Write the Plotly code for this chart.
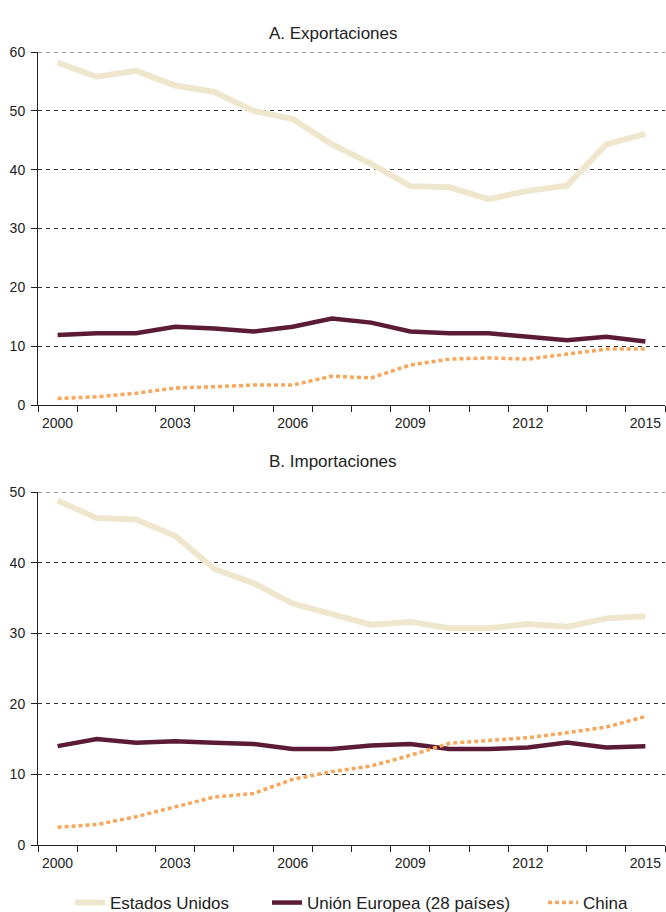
import plotly.graph_objects as go

years = list(range(2000, 2016))
xlabels = ["2000", "2003", "2006", "2009", "2012", "2015"]
xlabel_vals = [2000, 2003, 2006, 2009, 2012, 2015]

exp_eeuu = [58.2, 55.8, 56.8, 54.3, 53.2, 50.0, 48.6, 44.3, 41.0, 37.2, 37.0, 35.0, 36.4, 37.3, 44.3, 46.1]
exp_ue = [11.9, 12.2, 12.2, 13.3, 13.0, 12.5, 13.3, 14.7, 14.0, 12.5, 12.2, 12.2, 11.6, 11.0, 11.6, 10.8]
exp_china = [1.1, 1.4, 2.0, 2.9, 3.1, 3.4, 3.4, 4.9, 4.6, 6.8, 7.8, 8.0, 7.8, 8.7, 9.5, 9.5]

imp_eeuu = [48.8, 46.3, 46.1, 43.8, 39.1, 37.1, 34.2, 32.6, 31.2, 31.6, 30.7, 30.7, 31.3, 30.9, 32.1, 32.4]
imp_ue = [14.0, 15.0, 14.5, 14.7, 14.5, 14.3, 13.6, 13.6, 14.1, 14.3, 13.6, 13.6, 13.8, 14.5, 13.8, 14.0]
imp_china = [2.5, 2.9, 4.0, 5.4, 6.8, 7.3, 9.3, 10.4, 11.2, 12.7, 14.4, 14.8, 15.2, 15.9, 16.7, 18.2]

names = ["Estados Unidos", "Unión Europea (28 países)", "China"]
titles = ["A. Exportaciones", "B. Importaciones"]
y_max = [60, 50]

C_US = "#EFE7CD"
C_EU = "#5B1B37"
C_CN = "#F6A75C"
C_AX = "#222222"
FONT = "Arial, Liberation Sans, sans-serif"

fig = go.Figure()

def add_panel(vals, xa, ya, showlegend):
    us, eu, cn = vals
    fig.add_trace(go.Scatter(x=years, y=us, mode="lines", name=names[0], xaxis=xa, yaxis=ya,
                             line=dict(color=C_US, width=6), showlegend=showlegend, legend="legend"))
    fig.add_trace(go.Scatter(x=years, y=eu, mode="lines", name=names[1], xaxis=xa, yaxis=ya,
                             line=dict(color=C_EU, width=4.5), showlegend=showlegend, legend="legend2"))
    fig.add_trace(go.Scatter(x=years, y=cn, mode="lines", name=names[2], xaxis=xa, yaxis=ya,
                             line=dict(color=C_CN, width=3.5, dash="4px,3px"), showlegend=showlegend, legend="legend3"))

add_panel((exp_eeuu, exp_ue, exp_china), "x", "y", True)
add_panel((imp_eeuu, imp_ue, imp_china), "x2", "y2", False)

W, H = 666, 912
xd = [38 / W, 665 / W]

def xaxis(anchor):
    return dict(
        domain=xd, anchor=anchor, range=[1999.5, 2015.5], automargin=False,
        tickmode="array", tickvals=xlabel_vals, ticktext=xlabels,
        ticks="outside", ticklen=5, tickcolor="rgba(0,0,0,0)",
        showgrid=False, zeroline=False,
        showline=True, linecolor=C_AX, linewidth=1,
        tickfont=dict(family=FONT, size=14, color=C_AX),
        minor=dict(tickmode="linear", tick0=1999.5, dtick=1, ticks="outside",
                   ticklen=6, tickcolor=C_AX, tickwidth=1, showgrid=False),
    )

def yaxis(anchor, dom, rmax):
    return dict(
        domain=dom, anchor=anchor, range=[0, rmax], dtick=10, tick0=0, automargin=False,
        ticks="outside", ticklen=6, tickcolor=C_AX, tickwidth=1,
        showgrid=True, gridcolor="#333", gridwidth=1, griddash="4px,4px",
        zeroline=False, showline=True, linecolor=C_AX, linewidth=1,
        tickfont=dict(family=FONT, size=14, color=C_AX),
        ticklabelstandoff=3,
    )

def legend(xpix):
    return dict(orientation="h", x=xpix / W, xanchor="left", y=(H - 885) / H, yanchor="top",
                font=dict(family=FONT, size=17, color=C_AX), bgcolor="rgba(0,0,0,0)")

# top gridline at the upper edge of each panel (Plotly omits it at the range boundary)
shapes = []
for yref, ymax in (("y", y_max[0]), ("y2", y_max[1])):
    shapes.append(dict(type="line", xref="x domain" if yref == "y" else "x2 domain", x0=0, x1=1,
                       yref=yref, y0=ymax, y1=ymax, layer="below",
                       line=dict(color="#333", width=1, dash="4px,4px")))

fig.update_layout(
    width=W, height=H,
    margin=dict(l=0, r=0, t=0, b=0, autoexpand=False),
    paper_bgcolor="white", plot_bgcolor="white",
    xaxis=xaxis("y"),
    yaxis=yaxis("x", [(H - 405) / H, (H - 52) / H], y_max[0]),
    xaxis2=xaxis("y2"),
    yaxis2=yaxis("x2", [(H - 845) / H, (H - 492) / H], y_max[1]),
    showlegend=True,
    legend=legend(70),
    legend2=legend(267),
    legend3=legend(543),
    shapes=shapes,
    annotations=[
        dict(text=titles[0], x=0.5, y=(H - 22) / H, xref="paper", yref="paper",
             showarrow=False, font=dict(family=FONT, size=17, color=C_AX)),
        dict(text=titles[1], x=0.5, y=(H - 462) / H, xref="paper", yref="paper",
             showarrow=False, font=dict(family=FONT, size=17, color=C_AX)),
    ],
)

fig.write_html("out.html", config={"displayModeBar": False},
               post_script="document.body.style.margin='0';document.body.style.overflow='hidden';")
